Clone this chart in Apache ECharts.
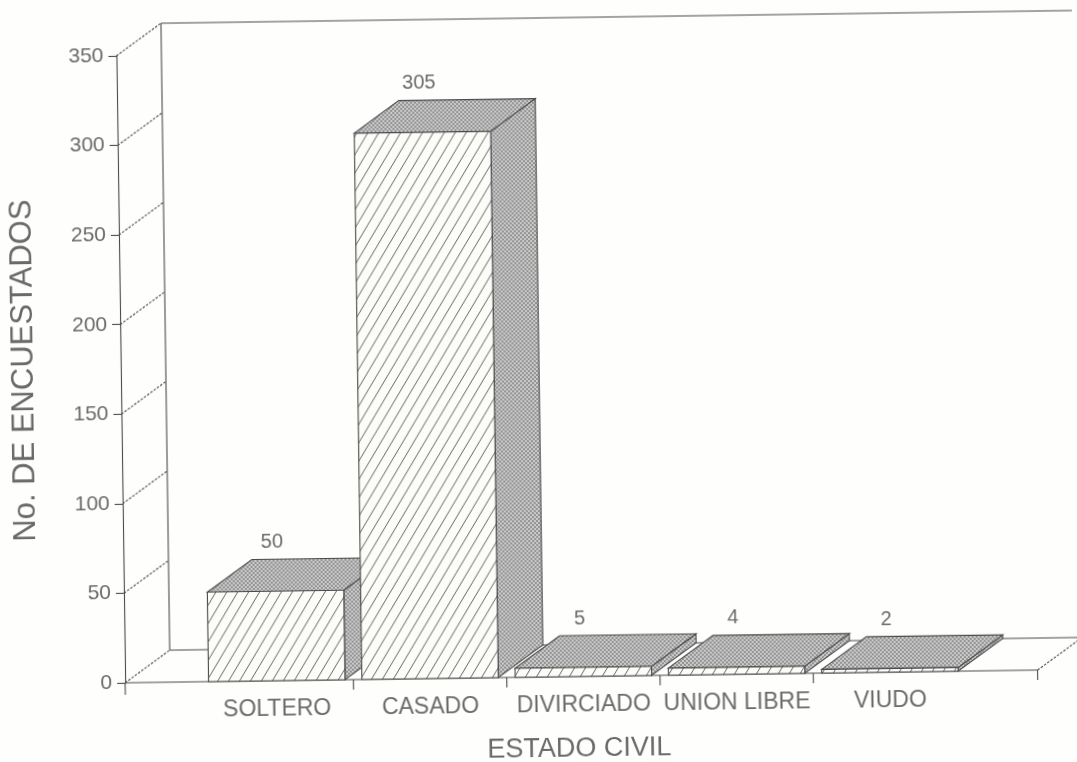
<!DOCTYPE html>
<html>
<head>
<meta charset="utf-8">
<script src="https://cdn.jsdelivr.net/npm/echarts@6/dist/echarts.min.js"></script>
<style>
html,body{margin:0;padding:0;background:#fefefc;overflow:hidden;}
#main{width:1077px;height:762px;transform:rotate(-0.8deg);transform-origin:538.5px 381px;filter:blur(0.5px);}
</style>
</head>
<body>
<div id="main"></div>
<script>
var categories = ['SOLTERO', 'CASADO', 'DIVIRCIADO', 'UNION LIBRE', 'VIUDO'];
var values = [50, 305, 5, 4, 2];
var valueLabels = ['50', '305', '5', '4', '2'];
var yTicks = [0, 50, 100, 150, 200, 250, 300, 350];

var DX = 45, DY = -32, AXIS_OFFSET = 75, FLOOR_EXT = 71;
var INK = '#4a4a4a', TXT = '#6a6a6a', FONT = '"Liberation Sans"';

function hatch() {
  var c = document.createElement('canvas'); c.width = 11; c.height = 18;
  var g = c.getContext('2d');
  g.fillStyle = '#fcfcf8'; g.fillRect(0, 0, 11, 18);
  g.strokeStyle = '#666666'; g.lineWidth = 1;
  g.beginPath();
  g.moveTo(-11, 18); g.lineTo(11, -18);
  g.moveTo(0, 18); g.lineTo(11, 0);
  g.moveTo(0, 36); g.lineTo(22, 0);
  g.stroke();
  return c;
}
function dither() {
  var c = document.createElement('canvas'); c.width = 4; c.height = 4;
  var g = c.getContext('2d');
  g.fillStyle = '#949494'; g.fillRect(0, 0, 4, 4);
  g.fillStyle = '#cbcbcb';
  g.fillRect(0, 0, 2, 2); g.fillRect(2, 2, 2, 2);
  return c;
}
var hatchFill = { image: hatch(), repeat: 'repeat' };
var ditherFill = { image: dither(), repeat: 'repeat' };

function line(a, b, dash) {
  return { type: 'line', shape: { x1: a[0], y1: a[1], x2: b[0], y2: b[1] },
    style: { stroke: INK, lineWidth: 1.1, lineDash: dash ? [2.5, 1.5] : null, fill: null } };
}
function poly(points, fill) {
  return { type: 'polygon', shape: { points: points },
    style: { fill: fill, stroke: INK, lineWidth: 1.1 } };
}

function renderFrame(params, api) {
  var cs = params.coordSys;
  var band = api.size([1, 0])[0];
  var y0 = api.coord([0, 0])[1];
  var left = cs.x - AXIS_OFFSET;
  var right = cs.x + cs.width + FLOOR_EXT;
  var yTop = api.coord([0, 350])[1];
  var kids = [];
  yTicks.forEach(function (t) {
    var y = api.coord([0, t])[1];
    kids.push(line([left, y], [left + DX, y + DY], true));
  });
  kids.push(line([left, y0], [right, y0]));
  kids.push(line([left + DX, y0 + DY], [right + DX + 5, y0 + DY]));
  kids.push(line([left + DX, y0 + DY], [left + DX, yTop + DY]));
  kids.push(line([left + DX, yTop + DY], [right + DX + 5, yTop + DY]));
  kids.push(line([right, y0], [right + DX, y0 + DY], true));
  kids.push(line([left, y0], [left, y0 + 12]));
  for (var i = 1; i < categories.length; i++) {
    var x = cs.x + band * i;
    kids.push(line([x, y0], [x, y0 + 10]));
  }
  kids.push(line([right, y0], [right, y0 + 10]));
  return { type: 'group', children: kids };
}

function renderBar(params, api) {
  var i = api.value(0), v = api.value(1);
  var c = api.coord([i, v]), b = api.coord([i, 0]);
  var w = api.size([1, 0])[0] * 0.89;
  var l = c[0] - w / 2, r = c[0] + w / 2, t = c[1], y0 = b[1];
  return {
    type: 'group',
    children: [
      poly([[r, t], [r + DX, t + DY], [r + DX, y0 + DY], [r, y0]], ditherFill),
      poly([[l, t], [r, t], [r + DX, t + DY], [l + DX, t + DY]], ditherFill),
      poly([[l, t], [r, t], [r, y0], [l, y0]], hatchFill),
      { type: 'text', style: {
          text: valueLabels[i], x: c[0] - 3, y: t + DY - 17,
          fill: TXT, font: '20px ' + FONT, align: 'center', verticalAlign: 'middle' } }
    ]
  };
}

var chart = echarts.init(document.getElementById('main'), null, { renderer: 'canvas' });
chart.setOption({
  animation: false,
  backgroundColor: '#fefefc',
  grid: { left: 196, right: 114.5, top: 50, bottom: 85, outerBoundsMode: 'none' },
  xAxis: {
    type: 'category', data: categories,
    axisLine: { show: false }, axisTick: { show: false },
    axisLabel: { interval: 0, color: TXT, fontFamily: 'Liberation Sans', fontSize: 23, margin: 17 },
    name: 'ESTADO CIVIL', nameLocation: 'middle', nameGap: 59,
    nameTextStyle: { color: TXT, fontFamily: 'Liberation Sans', fontSize: 27, padding: [0, 10, 0, 0] }
  },
  yAxis: {
    type: 'value', min: 0, max: 350, interval: 50, offset: AXIS_OFFSET,
    splitLine: { show: false },
    axisLine: { show: true, lineStyle: { color: INK, width: 1.1 } },
    axisTick: { show: true, length: 8, lineStyle: { color: INK, width: 1.1 } },
    axisLabel: { color: TXT, fontFamily: 'Liberation Sans', fontSize: 21, margin: 13 },
    name: 'No. DE ENCUESTADOS', nameLocation: 'middle', nameGap: 81,
    nameTextStyle: { color: TXT, fontFamily: 'Liberation Sans', fontSize: 31 }
  },
  series: [
    { type: 'custom', clip: false, silent: true, z: 1, renderItem: renderFrame, data: [[0, 0]] },
    { type: 'custom', clip: false, silent: true, z: 2, renderItem: renderBar,
      data: values.map(function (v, i) { return [i, v]; }) }
  ]
});
</script>
</body>
</html>
